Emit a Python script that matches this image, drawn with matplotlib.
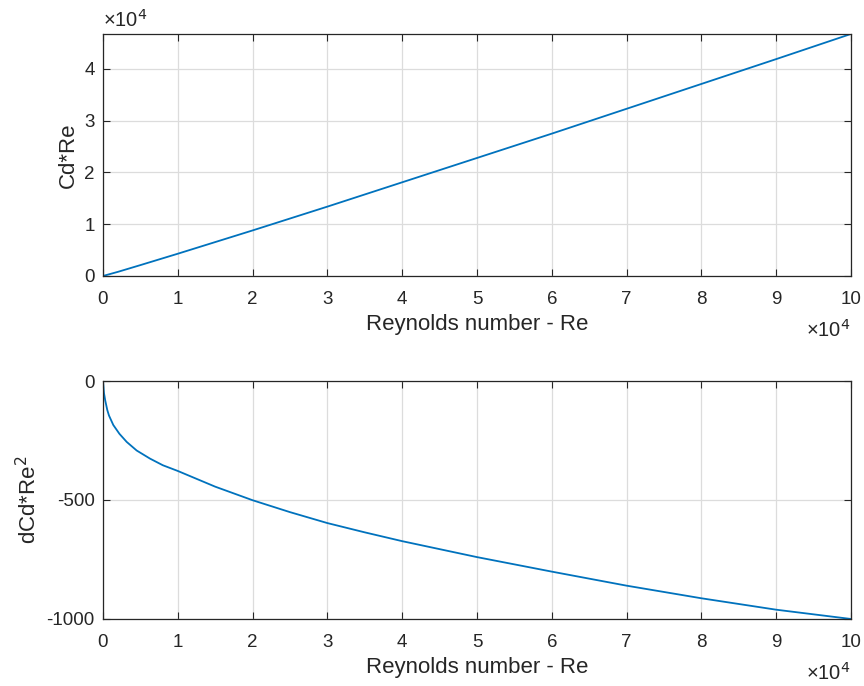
import numpy as np
import matplotlib
matplotlib.use("Agg")
from matplotlib import pyplot as plt
from matplotlib.ticker import FuncFormatter

# values
re_top = [0, 2000, 5000, 10000, 20000, 30000, 40000, 50000, 60000, 70000, 80000, 90000, 100000]
cdre = [0, 800, 2100, 4300, 8800, 13400, 18100, 22800, 27500, 32300, 37100, 41900, 46760]

re_bot = [0, 134, 300, 575, 800, 1380, 2200, 3170, 4500, 6280, 8000, 10000, 15000, 20000,
          25000, 30000, 35000, 40000, 50000, 60000, 70000, 80000, 90000, 100000]
dcdre2 = [0, -51, -82, -122, -145, -185, -222, -256, -292, -326, -354, -378, -444, -501,
          -551, -597, -636, -673, -740, -801, -860, -913, -961, -1000]

xticks = [0, 1, 2, 3, 4, 5, 6, 7, 8, 9, 10]

plt.rcParams['font.family'] = ['Liberation Sans', 'DejaVu Sans']
plt.rcParams['axes.unicode_minus'] = False
txt = '#262626'
blue = '#0072BD'

fig = plt.figure(figsize=(8.64, 6.86), dpi=100)
ax1 = fig.add_axes([0.1192, 0.5977, 0.8657, 0.3528])
ax2 = fig.add_axes([0.1192, 0.0977, 0.8657, 0.3469])

sc = FuncFormatter(lambda v, p: '%g' % (v / 1e4))

for ax in (ax1, ax2):
    ax.set_xlim(0, 1e5)
    ax.set_xticks([t * 1e4 for t in xticks])
    ax.xaxis.set_major_formatter(sc)
    ax.grid(True, color='#dcdcdc', linewidth=0.9)
    ax.set_axisbelow(True)
    ax.tick_params(direction='in', top=True, right=True, length=5, width=0.8,
                   labelsize=13.5, colors=txt)
    ax.tick_params(axis='x', pad=11)
    ax.tick_params(axis='y', pad=6)
    for s in ax.spines.values():
        s.set_color(txt)
        s.set_linewidth(0.9)
    ax.set_xlabel('Reynolds number - Re', fontsize=16, color=txt, labelpad=4)
    ax.annotate('\u00d710$^4$', xy=(1.0, 0.0), xycoords='axes fraction',
                xytext=(0, -44), textcoords='offset points', ha='right', va='baseline',
                fontsize=14.5, color=txt)

ax1.plot(re_top, cdre, color=blue, lw=1.3)
ax1.set_ylim(0, 46760)
ax1.set_yticks([0, 1e4, 2e4, 3e4, 4e4])
ax1.yaxis.set_major_formatter(sc)
ax1.set_ylabel('Cd*Re', fontsize=16, color=txt)
ax1.annotate('\u00d710$^4$', xy=(0.0, 1.0), xycoords='axes fraction',
             xytext=(0, 5), textcoords='offset points', ha='left', va='baseline',
             fontsize=14.5, color=txt)

ax2.plot(re_bot, dcdre2, color=blue, lw=1.3)
ax2.set_ylim(-1000, 0)
ax2.set_yticks([-1000, -500, 0])
ax2.set_ylabel('dCd*Re$^2$', fontsize=16, color=txt)

fig.savefig('out.png', dpi=100)
